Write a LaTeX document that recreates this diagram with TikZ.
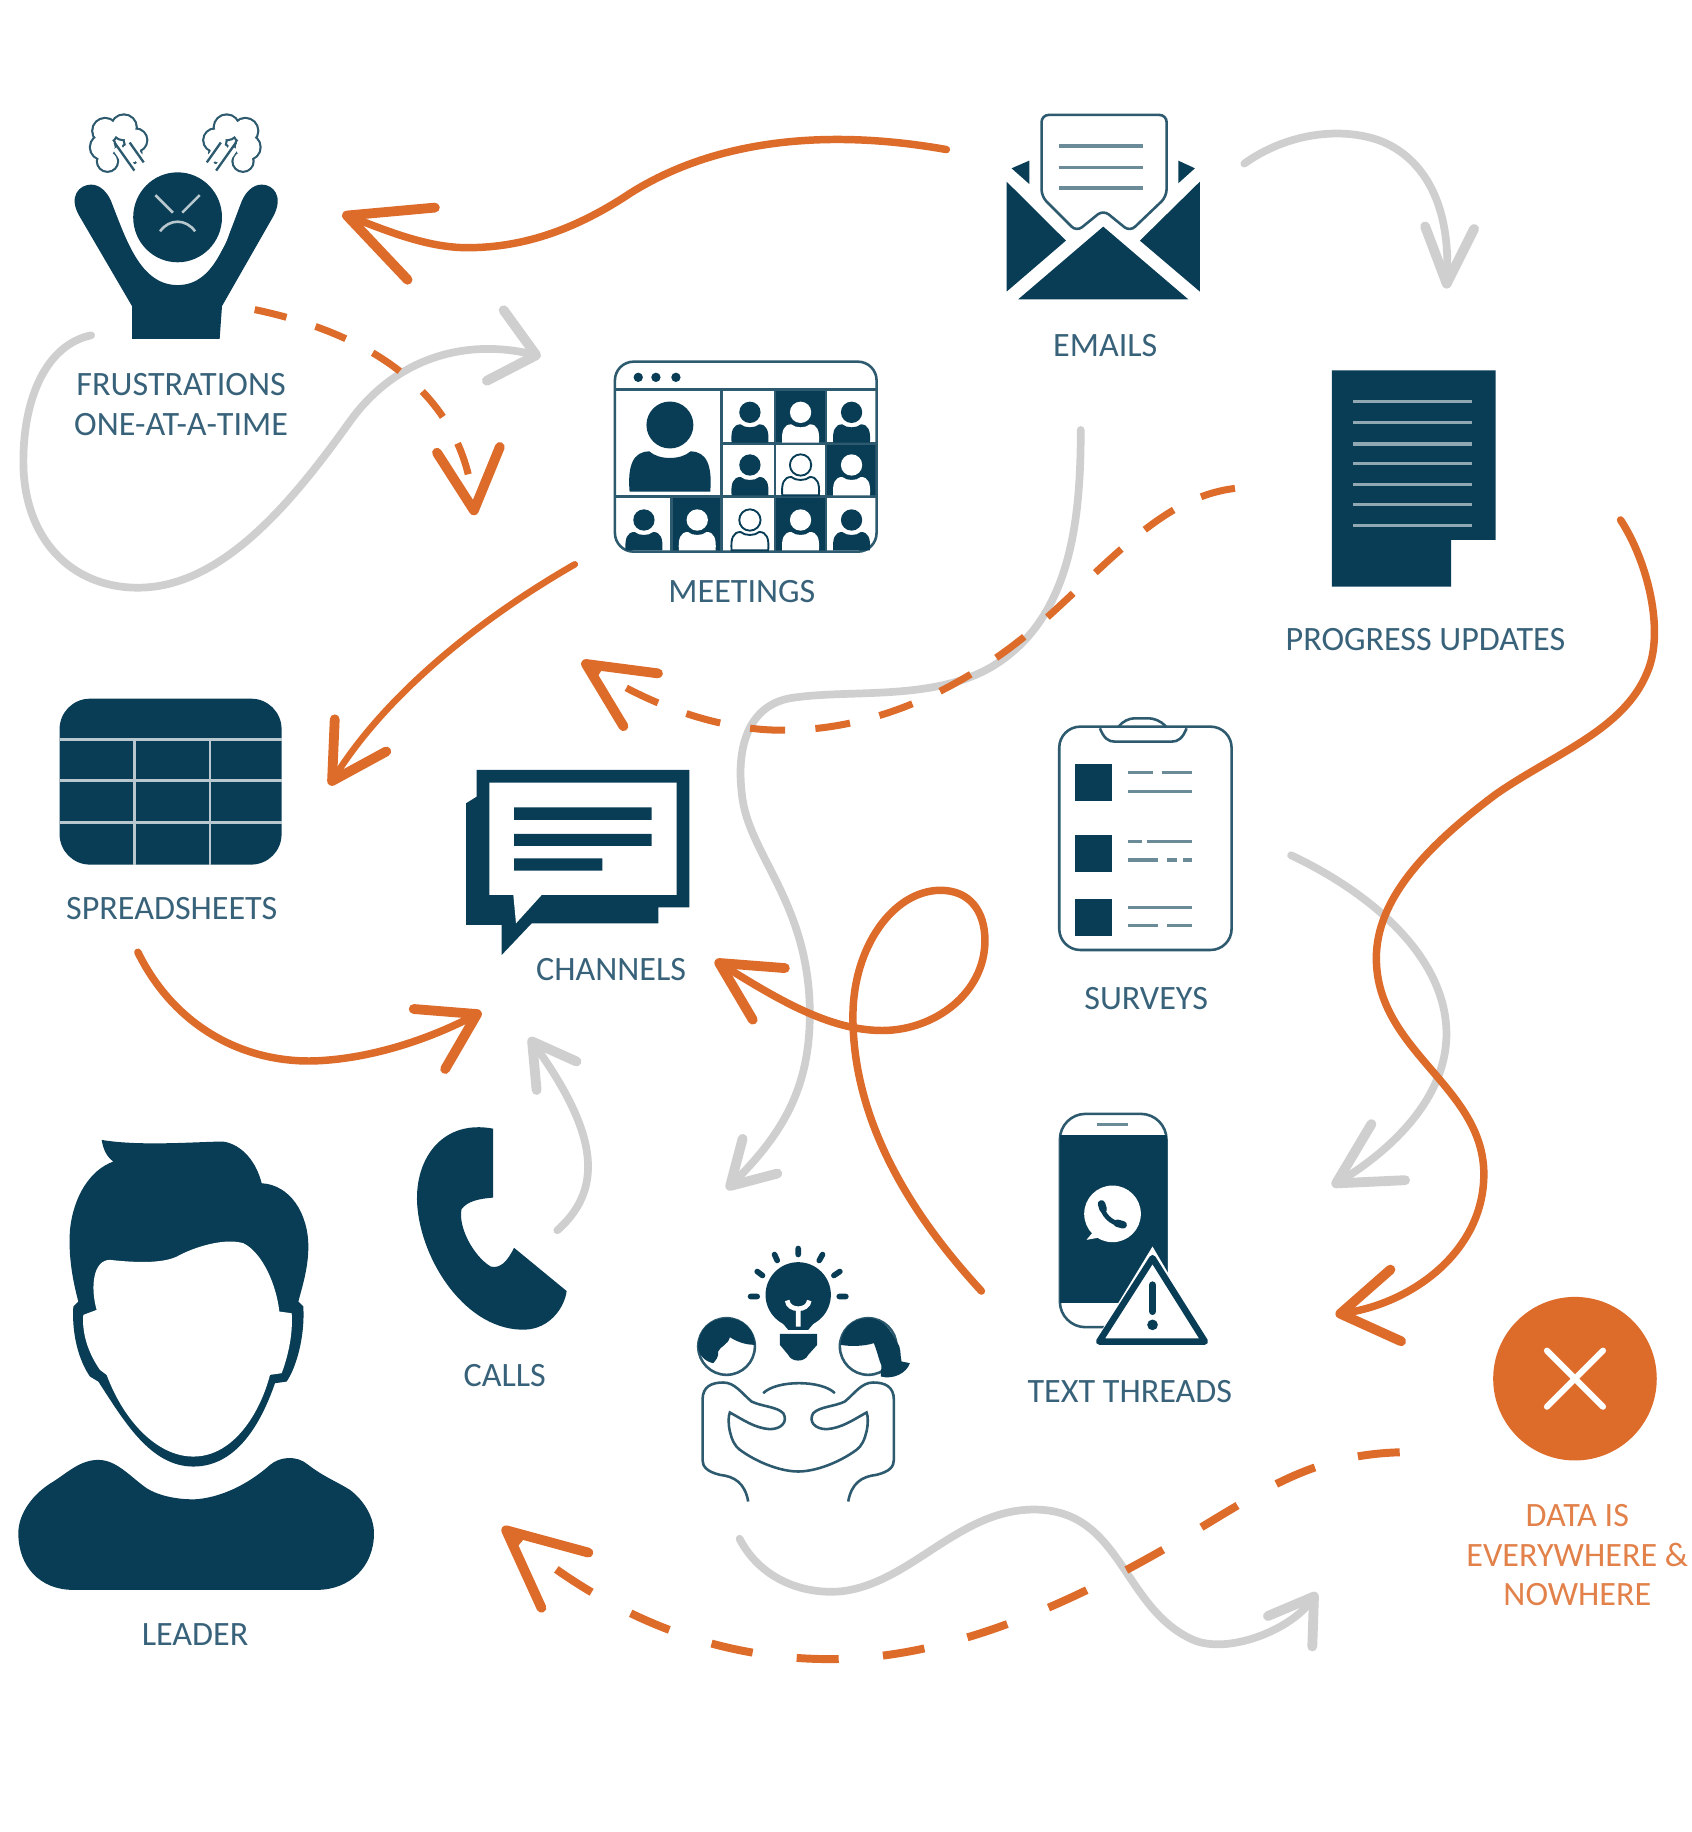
\documentclass[tikz,border=0pt]{standalone}
\usepackage{fontspec}
\setmainfont{Carlito}
\usetikzlibrary{arrows.meta}
\definecolor{navy}{HTML}{083D55}
\definecolor{rust}{HTML}{DD6B2A}
\definecolor{ash}{HTML}{CFCFCF}
\definecolor{inkblue}{HTML}{38627A}
\definecolor{paleline}{HTML}{B9C7CE}
\tikzset{
 lbl/.style={text=inkblue,font=\fontsize{14.6}{17}\selectfont,inner sep=0pt,align=center},
 thinline/.style={navy!85,line width=1.1pt},
 rustline/.style={rust,line width=3.2pt,line cap=round},
 rustdash/.style={rust,line width=3pt,dash pattern=on 14pt off 13pt},
 ashline/.style={ash,line width=3.3pt,line cap=round},
 barb/.style 2 args={-{Straight Barb[length=#1,width=#2,line width=4.2pt,round]}},
 darkp/.style={fill=navy},
 whitep/.style={fill=white},
 ringp/.style={draw=navy,fill=white,line width=.8pt},
}
% head and shoulders, origin at the centre of the head
\newcommand{\callee}[4][1]{
 \begin{scope}[shift={(#3,#4)},scale=#1]
 \path[#2] (0,0) circle (32);
 \path[#2] (-55,91) .. controls (-58,55) and (-50,36) .. (-28,36) .. controls (-15,48) and (15,48) .. (28,36) .. controls (50,36) and (58,55) .. (55,91) -- cycle;
 \end{scope}
}
\begin{document}
\begin{tikzpicture}[x=.5pt,y=-.5pt]
\useasboundingbox[fill=white] (0,0) rectangle (1448,1568);

% frustrated figure
\fill[navy] (113,290) -- (113,262) -- (68,185) .. controls (58,168) and (68,158) .. (78,158) .. controls (86,158) and (92,165) .. (95,172) .. controls (108,205) and (120,244) .. (152,244) .. controls (184,244) and (194,205) .. (207,172) .. controls (210,165) and (216,158) .. (224,158) .. controls (234,158) and (243,168) .. (234,185) -- (190,262) -- (188,290) -- cycle;
\fill[white] (152,186) ellipse (46 and 49);
\fill[navy] (152,186) ellipse (38 and 38.5);
\draw[paleline,line width=1.1pt] (133,167)--(148,182) (171,167)--(156,182);
\draw[paleline,line width=1.1pt] (137,198) .. controls (145,187) and (159,187) .. (167,198);
\foreach \s/\cx in {1/102,-1/198} {
 \begin{scope}[shift={(\cx,122)},xscale=\s]
 \foreach \a/\b/\r in {-12/-10/11,4/-13/11,14/-2/10,10/9/9,-14/4/11,-10/16/9} {\draw[navy!85,line width=1pt] (\a,\b) circle (\r);}
 \foreach \a/\b/\r in {-12/-10/11,4/-13/11,14/-2/10,10/9/9,-14/4/11,-10/16/9} {\fill[white] (\a,\b) circle (\r-.9);}
 \draw[white,line width=4pt] (-2,4)--(13,26) (9,4)--(23,20);
 \draw[navy!85,line width=1pt] (-4,0)--(13,24) (9,0)--(21,17);
 \end{scope}
}

% envelope
\begin{scope}[shift={(838.7,77)},scale=.2853]
 \fill[navy] (80,275)--(80,605)--(258,452)--cycle (660,275)--(660,605)--(480,452)--cycle (115,628)--(370,410)--(625,628)--cycle;
 \fill[navy] (95,235)--(148,212)--(148,282)--cycle (595,212)--(645,235)--(595,280)--cycle;
 \draw[thinline,rounded corners=3pt] (185,320)--(185,75)--(560,75)--(560,320)--(450,425)--(370,360)--(290,425)--cycle;
 \foreach \y in {168,232,294} {\draw[navy!60,line width=1.4pt] (238,\y)--(490,\y);}
\end{scope}

% video call window
\begin{scope}[shift={(504.9,291)},scale=.2853]
 \foreach \x/\t/\b in {632/148/310,785/310/470,322/470/632,632/470/632} {\fill[navy] (\x-76,\t) rectangle (\x+76,\b);}
 \draw[thinline,rounded corners=8pt] (75,65) rectangle (860,635);
 \draw[thinline] (75,148)--(860,148) (400,310)--(860,310) (75,470)--(860,470) (395,148)--(395,632);
 \draw[thinline] (245,470)--(245,632) (555,148)--(555,632) (708,148)--(708,632);
 \foreach \x in {145,198,258} {\fill[navy] (\x,112) circle (14);}
 \callee[2.2]{darkp}{240}{255}
 \foreach \k/\x/\y in {darkp/480/217,whitep/632/217,darkp/785/217,darkp/480/375,ringp/632/375,whitep/785/375,darkp/162/540,whitep/322/540,ringp/480/540,whitep/632/540,darkp/785/540} {\callee{\k}{\x}{\y}}
\end{scope}

% document
\fill[navy] (1140,317)--(1280,317)--(1280,462)--(1242,462)--(1242,502)--(1140,502)--cycle;
\foreach \y in {344,362,380,397,415,432,450} {\draw[navy!45,line width=1.3pt] (1158,\y)--(1260,\y);}

% sheet
\fill[navy,rounded corners=13pt] (51,598) rectangle (241,740);
\foreach \y in {633,668,704} {\draw[paleline,line width=1pt] (51,\y)--(241,\y);}
\foreach \x in {115,180} {\draw[paleline,line width=1pt] (\x,633)--(\x,740);}

% speech bubbles
\begin{scope}[shift={(376.6,641.9)},scale=.2853]
 \fill[navy] (110,60)--(748,60)--(748,472)--(655,472)--(655,520)--(275,520)--(185,615)--(185,525)--(78,525)--(78,160)--(110,140)--cycle;
 \fill[white] (148,98)--(710,98)--(710,435)--(305,435)--(228,520)--(220,435)--(148,435)--cycle;
 \fill[navy] (222,172) rectangle (635,210) (222,252) rectangle (635,288) (222,325) rectangle (487,362);
\end{scope}

% clipboard
\begin{scope}[shift={(881.5,599.1)},scale=.2853]
 \draw[thinline,rounded corners=9pt] (88,80) rectangle (605,750);
 \draw[thinline] (210,85) .. controls (222,115) and (235,125) .. (255,125) -- (425,125) .. controls (445,125) and (458,115) .. (470,85);
 \draw[thinline,rounded corners=4pt] (265,82)--(285,55)--(385,55)--(410,82);
 \foreach \y in {192,405,597} {\fill[navy] (135,\y) rectangle (245,\y+110);}
 \foreach \a/\b/\y in {295/368/218,395/487/218,295/487/274,295/335/425,350/487/425,295/385/480,412/440/480,458/487/480,295/487/622,295/385/677,412/487/677} {\draw[navy!60,line width=1.4pt] (\a,\y)--(\b,\y);}
\end{scope}

% handset
\fill[navy] (422,966) .. controls (380,958) and (355,990) .. (357,1030) .. controls (360,1080) and (400,1140) .. (450,1138) .. controls (470,1137) and (483,1120) .. (485,1105) -- (440,1068) .. controls (434,1080) and (428,1086) .. (420,1084) .. controls (405,1075) and (392,1050) .. (395,1035) .. controls (400,1028) and (410,1026) .. (422,1025) -- cycle;

% phone with warning sign
\begin{scope}[shift={(890,932.8)},scale=.2853]
 \draw[thinline,rounded corners=11pt] (60,72) rectangle (380,712);
 \fill[navy] (60,135) rectangle (380,640);
 \draw[navy!60,line width=1.3pt] (170,105)--(265,105);
 \fill[white] (218,372) circle (85);
 \fill[white] (165,420)--(140,450)--(195,440)--cycle;
 \draw[navy,line width=2pt,line cap=round] (187,345) .. controls (185,372) and (215,402) .. (245,403);
 \draw[navy,line width=3.2pt,line cap=round] (185,342)--(190,358) (232,400)--(250,405);
 \fill[white] (338,470)--(520,780)--(150,780)--cycle;
 \draw[navy,line width=2.8pt,line join=round,fill=white] (338,505)--(495,755)--(178,755)--cycle;
 \draw[navy,line width=3pt,line cap=round] (338,585)--(338,665);
 \fill[navy] (338,705) circle (16);
\end{scope}

% two people and a light bulb
\begin{scope}[shift={(581.9,1052.6)},scale=.2853]
 \fill[navy] (355,195) circle (98);
 \fill[navy] (270,235)--(440,235)--(385,300)--(325,300)--cycle;
 \fill[navy] (300,312)--(412,312)--(412,345)--(385,375) .. controls (375,398) and (335,398) .. (325,375) -- (300,345) -- cycle;
 \draw[white,line width=2pt] (322,212) .. controls (325,245) and (385,245) .. (388,212) (355,240)--(355,290);
 \draw[navy,line width=2.4pt,line cap=round] (212,200)--(232,200) (232,125)--(248,137) (284,74)--(292,92) (355,56)--(355,74) (428,74)--(418,92) (480,125)--(462,137) (478,200)--(498,200);
 \draw[thinline] (140,350) circle (85) (565,350) circle (85);
 \fill[navy] (55,350) .. controls (55,295) and (95,265) .. (140,265) .. controls (190,265) and (225,300) .. (225,345) .. controls (195,345) and (170,335) .. (150,322) .. controls (145,345) and (120,350) .. (115,365) .. controls (118,380) and (105,395) .. (100,400) .. controls (75,395) and (55,375) .. (55,350) -- cycle;
 \fill[navy] (482,345) .. controls (485,295) and (520,265) .. (565,265) .. controls (615,265) and (635,310) .. (650,335) .. controls (665,350) and (660,375) .. (665,395) -- (690,400) .. controls (680,430) and (640,450) .. (603,440) .. controls (600,425) and (610,410) .. (600,395) .. controls (595,380) and (590,360) .. (582,340) .. controls (550,350) and (510,350) .. (482,345) -- cycle;
 \foreach \s in {1,-1} {
 \begin{scope}[shift={(355,0)},xscale=\s]
 \draw[thinline] (-150,815) .. controls (-160,760) and (-190,740) .. (-235,735) .. controls (-275,725) and (-287,710) .. (-287,690) -- (-287,510) .. controls (-287,470) and (-260,458) .. (-225,458) .. controls (-190,458) and (-170,490) .. (-140,515) .. controls (-110,530) and (-65,530) .. (-45,550) .. controls (-30,575) and (-50,598) .. (-85,598) .. controls (-130,595) and (-165,570) .. (-205,548) .. controls (-215,570) and (-205,640) .. (-175,660) .. controls (-120,700) and (-50,725) .. (0,725);
 \end{scope}
 }
 \draw[thinline] (250,490) .. controls (290,450) and (425,450) .. (465,490);
\end{scope}

% leader
\begin{scope}[shift={(0,958.5)},scale=.2853]
 \fill[navy] (305,60) .. controls (420,80) and (600,65) .. (670,65) .. controls (730,75) and (770,130) .. (785,190) .. controls (870,195) and (925,280) .. (925,380) .. controls (925,440) and (910,490) .. (895,545) -- (910,560) .. controls (915,650) and (890,740) .. (860,785) -- (825,790) .. controls (790,890) and (720,1040) .. (580,1040) .. controls (450,1040) and (370,900) .. (295,785) -- (270,770) .. controls (235,720) and (215,640) .. (220,560) -- (235,545) .. controls (215,470) and (205,400) .. (210,330) .. controls (220,230) and (270,150) .. (340,125) .. controls (320,110) and (310,90) .. (305,60) -- cycle;
 \fill[white] (250,585) -- (290,570) .. controls (270,500) and (280,420) .. (330,420) .. controls (420,430) and (500,430) .. (540,405) .. controls (600,375) and (680,355) .. (730,370) .. controls (790,400) and (830,500) .. (838,575) -- (875,580) .. controls (880,650) and (860,720) .. (845,760) -- (810,765) .. controls (780,880) and (700,1010) .. (580,1010) .. controls (470,1010) and (370,900) .. (320,765) -- (300,750) .. controls (265,700) and (245,640) .. (250,585) -- cycle;
 \fill[navy] (55,1240) .. controls (55,1180) and (100,1120) .. (160,1085) .. controls (200,1060) and (240,1020) .. (295,1020) .. controls (350,1020) and (390,1070) .. (440,1105) .. controls (480,1130) and (540,1140) .. (590,1138) .. controls (680,1130) and (760,1080) .. (810,1035) .. controls (840,1010) and (890,1005) .. (925,1035) .. controls (970,1070) and (1010,1085) .. (1050,1110) .. controls (1090,1140) and (1122,1190) .. (1122,1240) .. controls (1122,1340) and (1050,1410) .. (950,1410) -- (220,1410) .. controls (120,1410) and (55,1340) .. (55,1240) -- cycle;
\end{scope}

% warning disc
\fill[rust] (1348,1180) circle (70);
\draw[white,line width=2.6pt,line cap=round] (1324,1156)--(1372,1204) (1372,1156)--(1324,1204);

% labels
\node[lbl] (frustrationsLbl) at (155,346) {FRUSTRATIONS\\[0pt]ONE-AT-A-TIME};
\node[lbl] (emailsLbl) at (946,296) {EMAILS};
\node[lbl] (meetingsLbl) at (635,506) {MEETINGS};
\node[lbl] (progressLbl) at (1220,547) {PROGRESS UPDATES};
\node[lbl] (sheetsLbl) at (147,778) {SPREADSHEETS};
\node[lbl] (channelsLbl) at (523,830) {CHANNELS};
\node[lbl] (surveysLbl) at (981,855) {SURVEYS};
\node[lbl] (callsLbl) at (432,1177) {CALLS};
\node[lbl] (threadsLbl) at (967,1191) {TEXT THREADS};
\node[lbl] (leaderLbl) at (167,1399) {LEADER};
\node[lbl,text=rust!85] (dataLbl) at (1350,1331) {DATA IS\\EVERYWHERE \&\\NOWHERE};

% ends of the connectors
\coordinate (frustLoopA) at (78,287);
\coordinate (frustLoopB) at (463,305);
\coordinate (mailOutA) at (1065,140);
\coordinate (progressIn) at (1238,247);
\coordinate (mailOutB) at (925,368);
\coordinate (ideasIn) at (622,1018);
\coordinate (callsOut) at (477,1053);
\coordinate (channelsBelow) at (453,888);
\coordinate (surveysOut) at (1105,732);
\coordinate (threadsInA) at (1140,1015);
\coordinate (ideasOut) at (633,1317);
\coordinate (dataIn) at (1127,1363);
\coordinate (mailOutC) at (810,128);
\coordinate (frustIn) at (293,183);
\coordinate (frustOut) at (218,265);
\coordinate (meetingsIn) at (406,441);
\coordinate (progressOut) at (1057,418);
\coordinate (meetingsBelow) at (498,566);
\coordinate (meetingsOut) at (492,483);
\coordinate (sheetsIn) at (282,672);
\coordinate (sheetsOut) at (118,815);
\coordinate (channelsLeft) at (412,866);
\coordinate (threadsOut) at (840,1105);
\coordinate (channelsRight) at (612,822);
\coordinate (progressSide) at (1387,445);
\coordinate (threadsInB) at (1143,1125);
\coordinate (dataOut) at (1198,1243);
\coordinate (leaderIn) at (430,1307);

% grey connectors
\draw[ashline,barb={18pt}{31pt}] (frustLoopA) .. controls (40,295) and (20,340) .. (20,395) .. controls (20,460) and (60,503) .. (118,503) .. controls (190,503) and (250,430) .. (300,360) .. controls (340,305) and (400,290) .. (frustLoopB);
\draw[ashline,barb={24pt}{21pt}] (mailOutA) .. controls (1100,115) and (1145,108) .. (1180,120) .. controls (1215,133) and (1242,170) .. (progressIn);
\draw[ashline,barb={18pt}{21pt}] (mailOutB) .. controls (925,450) and (915,530) .. (850,570) .. controls (800,600) and (730,590) .. (680,597) .. controls (640,602) and (630,640) .. (635,680) .. controls (640,730) and (690,770) .. (693,860) .. controls (695,930) and (670,970) .. (ideasIn);
\draw[ashline,barb={18pt}{21pt}] (callsOut) .. controls (520,1015) and (508,965) .. (channelsBelow);
\draw[ashline,barb={26pt}{28pt}] (surveysOut) .. controls (1175,765) and (1238,820) .. (1238,885) .. controls (1238,940) and (1190,985) .. (threadsInA);
\draw[ashline,barb={18pt}{23pt}] (ideasOut) .. controls (650,1350) and (685,1365) .. (720,1362) .. controls (780,1355) and (820,1292) .. (885,1292) .. controls (960,1292) and (960,1375) .. (1020,1403) .. controls (1050,1417) and (1105,1395) .. (dataIn);

% orange connectors
\draw[rustline,barb={34pt}{33pt}] (mailOutC) .. controls (720,112) and (620,115) .. (540,165) .. controls (495,195) and (450,212) .. (400,212) .. controls (365,212) and (330,197) .. (frustIn);
\draw[rustdash,barb={26pt}{27pt}] (frustOut) .. controls (290,280) and (395,320) .. (meetingsIn);
\draw[rustdash,dash pattern=on 15pt off 13pt,barb={28pt}{27pt}] (progressOut) .. controls (1000,425) and (960,470) .. (900,525) .. controls (840,580) and (760,625) .. (670,625) .. controls (610,625) and (550,600) .. (meetingsBelow);
\draw[rustline,line width=2.8pt,barb={23pt}{26pt}] (meetingsOut) .. controls (410,530) and (330,595) .. (sheetsIn);
\draw[rustline,barb={23pt}{29pt}] (sheetsOut) .. controls (150,880) and (210,910) .. (270,908) .. controls (320,906) and (370,888) .. (channelsLeft);
\draw[rustline,barb={25pt}{26pt}] (threadsOut) .. controls (780,1040) and (730,960) .. (730,870) .. controls (730,810) and (765,762) .. (805,762) .. controls (830,762) and (843,780) .. (843,805) .. controls (843,850) and (800,882) .. (755,882) .. controls (710,882) and (665,855) .. (channelsRight);
\draw[rustline,barb={24pt}{31pt}] (progressSide) .. controls (1410,480) and (1425,540) .. (1410,575) .. controls (1390,625) and (1330,645) .. (1280,680) .. controls (1220,725) and (1178,770) .. (1178,820) .. controls (1178,900) and (1270,930) .. (1270,1005) .. controls (1270,1070) and (1210,1115) .. (threadsInB);
\draw[rustdash,line width=3.4pt,dash pattern=on 18pt off 19pt,barb={33pt}{31pt}] (dataOut) .. controls (1130,1245) and (1090,1270) .. (1040,1300) .. controls (950,1355) and (830,1420) .. (710,1420) .. controls (600,1420) and (510,1375) .. (leaderIn);
\end{tikzpicture}
\end{document}
